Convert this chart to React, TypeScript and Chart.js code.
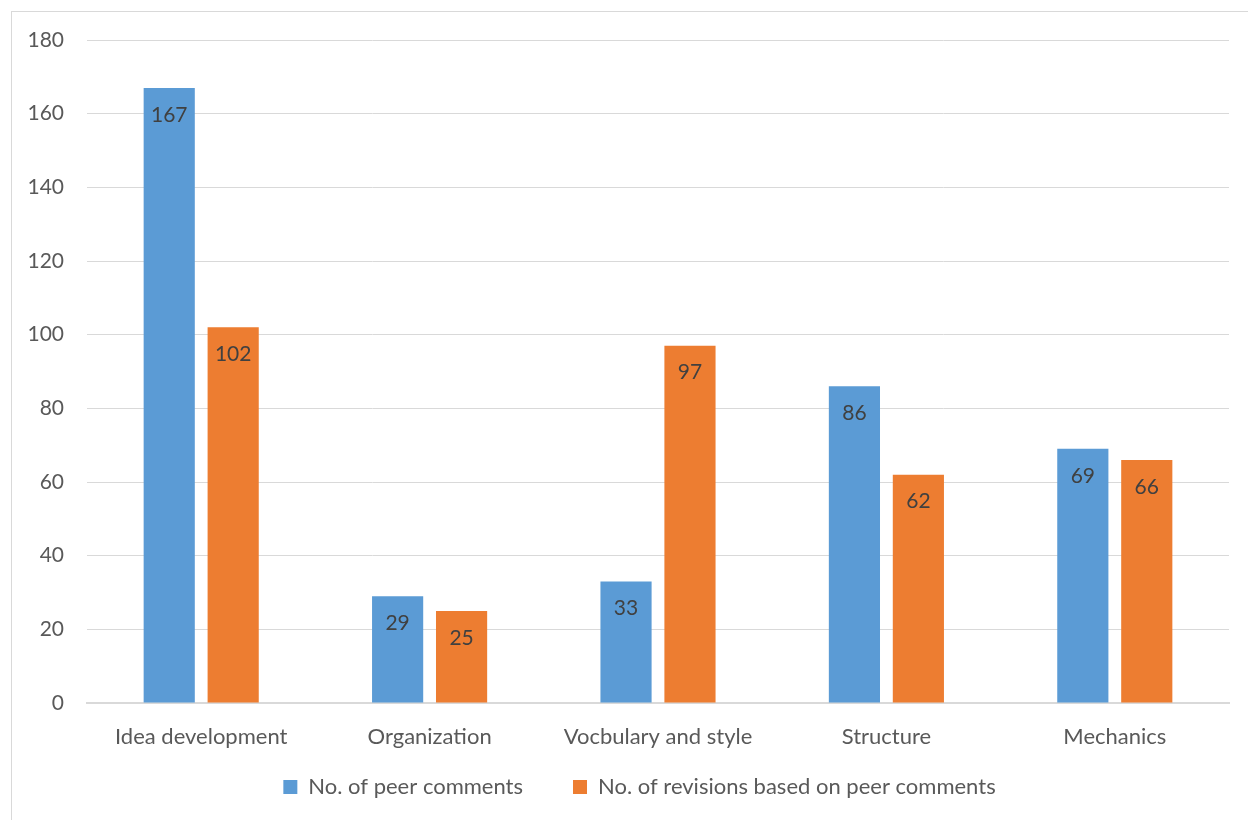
import React, { useEffect, useRef } from "react";
import { Chart, registerables } from "chart.js";

Chart.register(...registerables);

const categories = ["Idea development", "Organization", "Vocbulary and style", "Structure", "Mechanics"];
const peerComments = [167, 29, 33, 86, 69];
const revisions = [102, 25, 97, 62, 66];
const seriesNames = ["No. of peer comments", "No. of revisions based on peer comments"];
const yTicks = [0, 20, 40, 60, 80, 100, 120, 140, 160, 180];

const FONT = "Lato, 'Open Sans', sans-serif";

const labelPlugin = {
  id: "insideEndLabels",
  afterDatasetsDraw(chart: any) {
    const ctx = chart.ctx;
    ctx.save();
    ctx.font = `21px ${FONT}`;
    ctx.fillStyle = "#404040";
    ctx.textAlign = "center";
    ctx.textBaseline = "middle";
    chart.data.datasets.forEach((ds: any, i: number) => {
      const meta = chart.getDatasetMeta(i);
      meta.data.forEach((bar: any, j: number) => {
        ctx.fillText(String(ds.data[j]), bar.x, bar.y + 27);
      });
    });
    ctx.restore();
  },
};

const legendShift = {
  id: "legendShift",
  afterLayout(chart: any) {
    if (chart.legend) {
      chart.legend.left += 20;
      chart.legend.right += 20;
    }
  },
};

export default function App() {
  const ref = useRef<HTMLCanvasElement | null>(null);
  useEffect(() => {
    if (!ref.current) return;
    const chart = new Chart(ref.current, {
      type: "bar",
      data: {
        labels: categories,
        datasets: [
          { label: seriesNames[0], data: peerComments, backgroundColor: "#5B9BD5", categoryPercentage: 0.56, barPercentage: 0.8 },
          { label: seriesNames[1], data: revisions, backgroundColor: "#ED7D31", categoryPercentage: 0.56, barPercentage: 0.8 },
        ],
      },
      options: {
        animation: false,
        responsive: false,
        maintainAspectRatio: false,
        layout: { padding: { left: 10, right: 19, top: 40, bottom: 12 } },
        plugins: {
          tooltip: { enabled: false },
          legend: {
            position: "bottom",
            labels: {
              boxWidth: 14,
              boxHeight: 14,
              padding: 50,
              color: "#595959",
              font: { family: FONT, size: 22 },
            },
          },
        },
        scales: {
          x: {
            grid: { display: false },
            border: { color: "#d9d9d9", width: 2 },
            ticks: { color: "#595959", font: { family: FONT, size: 22 }, padding: 13, maxRotation: 0, autoSkip: false },
            afterFit(scale: any) {
              scale.height = 23;
              scale._computeLabelArea = () => undefined;
            },
          },
          y: {
            min: 0,
            max: 180,
            afterBuildTicks(scale: any) { scale.ticks = yTicks.map((v) => ({ value: v })); },
            grid: { color: "#d9d9d9", lineWidth: 1, drawTicks: false },
            border: { display: false },
            ticks: { color: "#595959", font: { family: FONT, size: 21 }, padding: 23 },
            afterFit(scale: any) { scale.width = 77; },
          },
        },
      },
      plugins: [labelPlugin, legendShift],
    });
    return () => chart.destroy();
  }, []);
  return (
    <div style={{ position: "fixed", left: 0, top: 0, width: 1248, height: 820, overflow: "hidden", background: "#fff" }}>
      <div style={{ position: "absolute", left: 11, top: 11, width: 1400, height: 1000, border: "1px solid #d9d9d9", boxSizing: "border-box" }} />
      <canvas ref={ref} width={1248} height={820} style={{ position: "absolute", left: 0, top: 0, width: 1248, height: 820 }} />
    </div>
  );
}
